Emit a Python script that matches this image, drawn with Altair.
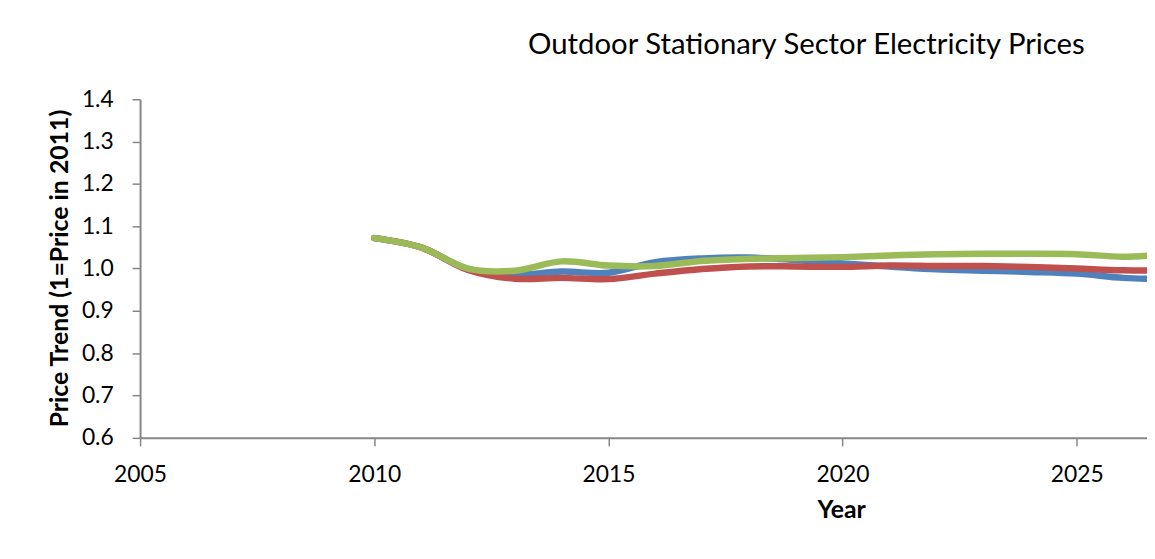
import altair as alt
import pandas as pd

years = list(range(2010, 2028))
series_names = ["Reference", "Low Price", "High Price"]
blue_vals = [1.072, 1.050, 0.999, 0.985, 0.993, 0.990, 1.015, 1.024, 1.026, 1.020, 1.012,
             1.005, 0.998, 0.995, 0.992, 0.988, 0.978, 0.975]
red_vals = [1.072, 1.050, 0.997, 0.976, 0.978, 0.975, 0.988, 0.999, 1.005, 1.005, 1.004,
            1.007, 1.006, 1.006, 1.004, 1.000, 0.996, 0.995]
green_vals = [1.072, 1.050, 1.000, 0.995, 1.017, 1.007, 1.006, 1.018, 1.023, 1.025, 1.027,
              1.031, 1.034, 1.035, 1.035, 1.034, 1.028, 1.035]
colors = ["#4F81BD", "#C0504D", "#9BBB59"]
x_ticks = [2005, 2010, 2015, 2020, 2025]
y_ticks = [0.6, 0.7, 0.8, 0.9, 1.0, 1.1, 1.2, 1.3, 1.4]

rows = []
for name, vals in zip(series_names, [blue_vals, red_vals, green_vals]):
    for yr, v in zip(years, vals):
        rows.append({"Year": yr, "Price": v, "Series": name})
df = pd.DataFrame(rows)

FONT = "Lato"
AX = "#868686"

x_enc = alt.X(
    "Year:Q",
    scale=alt.Scale(domain=[2005, 2026.5], nice=False, zero=False),
    axis=alt.Axis(
        values=x_ticks, format="d", title="Year", grid=False,
        labelFont=FONT, labelFontSize=23, labelColor="black",
        labelBaseline="alphabetic", labelPadding=36, labelFlush=False,
        tickSize=8, tickColor=AX, tickWidth=1.5,
        domainColor=AX, domainWidth=2,
        titleFont=FONT, titleFontSize=25, titleFontWeight="bold", titleColor="black",
        titleX=706, titleY=80, titleBaseline="alphabetic", titleAnchor="start", titleAlign="center",
    ),
)
y_enc = alt.Y(
    "Price:Q",
    scale=alt.Scale(domain=[0.6, 1.4], nice=False, zero=False),
    axis=alt.Axis(
        values=y_ticks, format=".1f", title="Price Trend (1=Price in 2011)", grid=False,
        labelFont=FONT, labelFontSize=23, labelColor="black", labelPadding=19,
        labelFlush=False,
        tickSize=8, tickColor=AX, tickWidth=1.5,
        domainColor=AX, domainWidth=2,
        titleFont=FONT, titleFontSize=25, titleFontWeight="bold", titleColor="black",
        titleX=-81, titleY=170, titleBaseline="middle", titleAngle=270, titleAlign="center",
    ),
)
color_enc = alt.Color("Series:N", scale=alt.Scale(domain=series_names, range=colors), legend=None)

layers = []
for name in series_names:
    layers.append(
        alt.Chart(df)
        .transform_filter(alt.datum.Series == name)
        .mark_line(interpolate="catmull-rom", strokeWidth=6.5, strokeCap="round", clip=True)
        .encode(x=x_enc, y=y_enc, color=color_enc)
    )

chart = alt.layer(*layers).properties(
    width=1014,
    height=341,
    padding={"left": 133, "top": 90, "right": 0, "bottom": 105},
    autosize=alt.AutoSizeParams(type="none"),
    title=alt.TitleParams(
        text="Outdoor Stationary Sector Electricity Prices",
        font=FONT, fontSize=29.5, fontWeight="normal", color="black",
        anchor="middle", dx=164, offset=5, baseline="alphabetic", frame="group",
    ),
).configure(background="white").configure_view(stroke=None)

chart.save("out.html", embed_options={"renderer": "svg", "actions": False})
